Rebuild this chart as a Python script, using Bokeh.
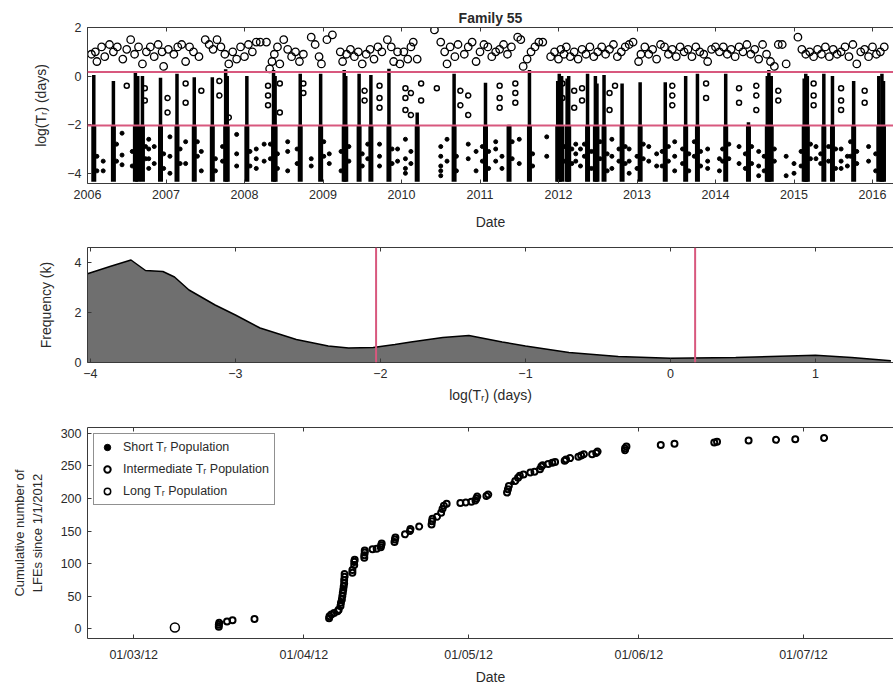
import pandas as pd
from bokeh.plotting import figure
from bokeh.layouts import column
from bokeh.models import (Range1d, FixedTicker, LinearAxis, CustomJSTickFormatter,
                          DatetimeTickFormatter, Legend, LegendItem, Span)
from bokeh.embed import file_html
from bokeh.resources import INLINE

FONT = "Liberation Sans"
TXT = "#2a2a2a"
PINK = "#d8587e"

# ---------------- Panel 1 data (decimal years, log10 Tr in days) ----------------
year_ticks = [2006, 2007, 2008, 2009, 2010, 2011, 2012, 2013, 2014, 2015, 2016]
log_ticks = [-4, -2, 0, 2]
short_limit = -2.03
long_limit = 0.17

# dense LFE bursts: date and highest log(Tr) reached by the column
burst_year = [2006.08, 2006.33, 2006.61, 2006.64, 2006.70, 2006.93, 2007.14, 2007.36, 2007.59,
              2007.76, 2007.78, 2008.03, 2008.37, 2008.39, 2008.71, 2008.97, 2009.27, 2009.29,
              2009.46, 2009.61, 2009.84, 2010.20, 2010.67, 2011.07, 2011.37, 2011.63, 2011.99,
              2012.01, 2012.04, 2012.11, 2012.13, 2012.37, 2012.47, 2012.49, 2012.58, 2012.81,
              2013.04, 2013.36, 2013.62, 2013.77, 2014.13, 2014.42, 2014.66, 2014.68, 2014.71,
              2015.13, 2015.15, 2015.17, 2015.38, 2015.49, 2015.76, 2016.08, 2016.12, 2016.14]
burst_top = [0.05, -0.2, 0.14, 0.0, 0.0, -0.07, 0.1, -0.05, -0.05,
             0.28, 0.0, 0.0, 0.25, 0.0, 0.1, 0.1, 0.25, 0.0,
             0.1, 0.05, 0.3, -1.5, 0.1, -0.27, -2.0, 0.25, -0.2,
             0.1, 0.0, -0.1, 0.0, 0.1, 0.0, -0.3, 0.05, -0.3,
             -0.25, -0.25, 0.0, 0.1, 0.1, -1.9, 0.0, 0.25, 0.0,
             -0.1, 0.1, 0.0, 0.1, 0.0, -0.2, 0.0, 0.1, -0.2]
burst_bottom = -4.35

short_year = [2006.44, 2006.44, 2006.44, 2006.20, 2006.20, 2006.78, 2006.78, 2006.78, 2006.78,
              2006.85, 2006.85, 2007.05, 2007.05, 2007.05, 2007.25, 2007.25, 2007.45, 2007.45,
              2007.90, 2007.90, 2007.90, 2008.15, 2008.15, 2008.15, 2008.25, 2008.25,
              2008.55, 2008.55, 2008.55, 2008.85, 2008.85, 2009.08, 2009.08, 2009.72, 2009.72,
              2009.72, 2009.95, 2009.95, 2010.05, 2010.05, 2010.05, 2010.05, 2010.12, 2010.12,
              2010.50, 2010.50, 2010.50, 2010.50, 2010.50, 2010.58, 2010.58, 2010.85, 2010.85,
              2010.95, 2010.95, 2011.20, 2011.20, 2011.20, 2011.28, 2011.28, 2011.50, 2011.50,
              2011.85, 2011.85, 2012.22, 2012.22, 2012.22, 2012.28, 2012.28, 2012.68, 2012.68,
              2012.68, 2012.90, 2012.90, 2012.90, 2013.15, 2013.15, 2013.25, 2013.25, 2013.48,
              2013.48, 2013.48, 2013.90, 2013.90, 2013.90, 2014.05, 2014.05, 2014.30, 2014.30,
              2014.55, 2014.55, 2014.55, 2014.90, 2014.90, 2015.00, 2015.00, 2015.28, 2015.28,
              2015.60, 2015.60, 2015.60, 2015.68, 2015.68, 2015.95, 2015.95,
              2006.12, 2006.12, 2006.37, 2006.37, 2006.57, 2006.57, 2006.74, 2006.74, 2006.97,
              2006.97, 2007.18, 2007.18, 2007.40, 2007.40, 2007.63, 2007.63, 2007.72, 2007.72,
              2008.07, 2008.07, 2008.33, 2008.33, 2008.42, 2008.42, 2008.67, 2008.67, 2009.01,
              2009.01, 2009.23, 2009.23, 2009.33, 2009.33, 2009.50, 2009.50, 2009.57, 2009.57,
              2009.88, 2009.88, 2010.70, 2010.70, 2011.03, 2011.03, 2011.11, 2011.11, 2011.41,
              2011.41, 2011.67, 2011.67, 2012.07, 2012.07, 2012.17, 2012.17, 2012.33, 2012.33,
              2012.42, 2012.42, 2012.53, 2012.53, 2012.62, 2012.62, 2012.77, 2012.77, 2012.85,
              2012.85, 2013.00, 2013.00, 2013.08, 2013.08, 2013.32, 2013.32, 2013.40, 2013.40,
              2013.58, 2013.58, 2013.66, 2013.66, 2013.73, 2013.73, 2013.81, 2013.81, 2014.09,
              2014.09, 2014.17, 2014.17, 2014.38, 2014.38, 2014.46, 2014.46, 2014.62, 2014.62,
              2014.75, 2014.75, 2015.09, 2015.09, 2015.21, 2015.21, 2015.34, 2015.34, 2015.44,
              2015.44, 2015.53, 2015.53, 2015.72, 2015.72, 2015.80, 2015.80, 2016.04, 2016.04]
short_log = [-2.35, -3.25, -3.65, -3.5, -3.9, -2.6, -3.0, -3.4, -3.8,
             -2.9, -3.6, -2.5, -3.3, -4.0, -2.7, -3.6, -3.1, -3.9,
             -2.4, -3.2, -3.7, -3.0, -3.4, -3.8, -2.8, -3.5,
             -2.7, -3.1, -3.9, -3.4, -3.7, -3.2, -3.6, -2.8, -3.3,
             -3.7, -3.0, -3.5, -2.6, -3.4, -3.8, -4.0, -3.1, -3.6,
             -2.9, -3.3, -3.7, -3.9, -4.1, -2.6, -3.5, -2.8, -3.4,
             -3.1, -3.9, -2.7, -3.0, -3.5, -3.3, -3.8, -2.6, -3.6,
             -2.5, -3.3, -2.8, -3.2, -3.5, -3.0, -3.7, -2.6, -3.3,
             -3.8, -3.0, -3.5, -4.0, -2.9, -3.5, -3.2, -3.7, -2.7,
             -3.3, -3.9, -3.0, -3.5, -3.8, -3.4, -3.9, -2.9, -3.6,
             -3.1, -3.7, -4.1, -3.3, -4.1, -3.6, -4.0, -2.9, -3.4,
             -3.0, -3.5, -3.8, -3.3, -3.7, -2.9, -3.5,
             -3.3, -3.9, -2.8, -3.5, -3.1, -3.7, -2.9, -3.4, -3.2,
             -3.8, -3.0, -3.6, -2.7, -3.3, -3.4, -3.9, -2.9, -3.5,
             -3.1, -3.7, -2.8, -3.4, -3.2, -3.8, -3.0, -3.6, -2.7,
             -3.3, -3.1, -3.9, -2.9, -3.5, -3.2, -3.7, -2.8, -3.4,
             -3.0, -3.6, -3.3, -3.9, -2.9, -3.5, -3.1, -3.8, -2.7,
             -3.4, -3.2, -3.7, -2.9, -3.5, -3.0, -3.6, -2.8, -3.3,
             -3.1, -3.8, -2.7, -3.4, -3.2, -3.9, -3.0, -3.5, -2.9,
             -3.6, -3.3, -3.8, -2.8, -3.4, -3.1, -3.7, -2.9, -3.5,
             -3.0, -3.6, -3.2, -3.9, -2.7, -3.3, -3.1, -3.7, -3.0,
             -3.5, -2.8, -3.4, -3.2, -3.8, -2.9, -3.6, -3.3, -3.9,
             -3.0, -3.5, -3.1, -3.7, -2.8, -3.4, -3.2, -3.6, -2.9,
             -3.5, -3.0, -3.8, -2.7, -3.3, -3.1, -3.6, -3.2, -3.9]

mid_year = [2006.50, 2006.73, 2006.73, 2007.02, 2007.02, 2007.25, 2007.25, 2007.45,
            2007.68, 2007.68, 2007.80, 2008.30, 2008.30, 2008.30, 2008.45, 2008.45,
            2008.75, 2008.75, 2009.53, 2009.53, 2009.72, 2009.72, 2009.72, 2010.05,
            2010.05, 2010.05, 2010.12, 2010.12, 2010.25, 2010.25, 2010.45, 2010.75,
            2010.75, 2010.85, 2010.85, 2011.25, 2011.25, 2011.25, 2011.45, 2011.45,
            2011.45, 2012.05, 2012.05, 2012.20, 2012.20, 2012.30, 2012.30, 2012.65,
            2012.65, 2012.72, 2013.45, 2013.45, 2013.45, 2013.88, 2013.88, 2014.30,
            2014.30, 2014.52, 2014.52, 2014.52, 2014.80, 2014.80, 2015.25, 2015.25,
            2015.25, 2015.60, 2015.60, 2015.60, 2015.90, 2015.90]
mid_log = [-0.4, -0.5, -1.0, -0.9, -1.5, -0.3, -1.1, -0.6,
           -0.2, -0.8, -1.7, -0.4, -0.8, -1.2, -0.3, -1.5,
           -0.3, -0.7, -0.6, -1.0, -0.4, -0.9, -1.3, -0.5,
           -0.9, -1.4, -0.7, -1.6, -0.3, -1.0, -0.5, -0.6,
           -1.2, -0.8, -1.6, -0.4, -0.9, -1.3, -0.3, -0.7,
           -1.1, -0.3, -0.9, -0.6, -1.3, -0.5, -1.0, -0.7,
           -1.4, -0.4, -0.4, -0.8, -1.2, -0.3, -0.9, -0.5,
           -1.1, -0.4, -0.8, -1.4, -0.6, -1.0, -0.3, -0.8,
           -1.2, -0.5, -1.0, -1.4, -0.6, -1.1]

long_year = [2006.05, 2006.10, 2006.12, 2006.18, 2006.22, 2006.28, 2006.33, 2006.38, 2006.45, 2006.50,
             2006.55, 2006.60, 2006.65, 2006.70, 2006.75, 2006.80, 2006.85, 2006.90, 2006.95, 2006.97,
             2007.03, 2007.10, 2007.15, 2007.20, 2007.25, 2007.30, 2007.35, 2007.42, 2007.50, 2007.55,
             2007.60, 2007.65, 2007.70, 2007.75, 2007.80, 2007.85, 2007.90, 2007.95,
             2008.00, 2008.05, 2008.10, 2008.15, 2008.20, 2008.28, 2008.32, 2008.35, 2008.38, 2008.42,
             2008.45, 2008.50, 2008.55, 2008.60, 2008.65, 2008.70, 2008.75, 2008.85, 2008.90, 2008.95,
             2008.98, 2009.05, 2009.12, 2009.22, 2009.25, 2009.30, 2009.35, 2009.40, 2009.45, 2009.50,
             2009.55, 2009.60, 2009.65, 2009.70, 2009.75, 2009.82, 2009.87, 2009.90, 2009.95, 2009.98,
             2010.03, 2010.08, 2010.12, 2010.15, 2010.20, 2010.42, 2010.50, 2010.55, 2010.58, 2010.62,
             2010.68, 2010.72, 2010.80, 2010.85, 2010.90, 2010.95, 2011.00, 2011.05, 2011.10, 2011.15,
             2011.20, 2011.25, 2011.30, 2011.35, 2011.40, 2011.48, 2011.52, 2011.55, 2011.60, 2011.65,
             2011.70, 2011.75, 2011.80, 2011.90, 2011.95, 2012.00, 2012.03, 2012.07, 2012.10, 2012.15,
             2012.20, 2012.25, 2012.30, 2012.35, 2012.40, 2012.45, 2012.50, 2012.55, 2012.60, 2012.65,
             2012.70, 2012.75, 2012.80, 2012.85, 2012.90, 2012.95, 2013.02, 2013.05, 2013.10, 2013.15,
             2013.20, 2013.25, 2013.30, 2013.35, 2013.40, 2013.45, 2013.50, 2013.55, 2013.60, 2013.65,
             2013.70, 2013.75, 2013.80, 2013.85, 2013.90, 2013.95, 2014.00, 2014.05, 2014.10, 2014.15,
             2014.20, 2014.25, 2014.30, 2014.35, 2014.40, 2014.45, 2014.50, 2014.55, 2014.60, 2014.65,
             2014.70, 2014.75, 2014.80, 2014.85, 2014.90, 2015.05, 2015.10, 2015.15, 2015.20, 2015.25,
             2015.30, 2015.35, 2015.40, 2015.45, 2015.50, 2015.55, 2015.60, 2015.65, 2015.70, 2015.75,
             2015.80, 2015.85, 2015.90, 2015.95, 2016.00, 2016.05, 2016.10, 2016.15]
long_log = [0.9, 1.0, 0.6, 1.2, 0.8, 1.3, 1.0, 1.2, 0.7, 1.1,
            1.5, 0.9, 1.2, 0.5, 1.0, 1.2, 0.8, 1.3, 1.0, 0.4,
            1.1, 0.9, 1.2, 1.3, 0.6, 1.2, 1.0, 0.8, 1.5, 1.3,
            1.1, 1.5, 1.2, 0.9, 0.5, 1.0, 0.7, 1.2,
            0.8, 1.3, 1.0, 1.4, 1.4, 1.4, 0.3, 0.6, 0.9, 1.2,
            0.5, 1.5, 1.1, 0.8, 1.0, 0.6, 0.9, 1.6, 1.3, 0.8,
            0.5, 1.5, 1.7, 1.0, 0.6, 0.9, 1.1, 0.8, 1.0, 0.5,
            0.9, 1.1, 0.7, 1.2, 1.0, 1.5, 1.2, 0.6, 1.0, 0.5,
            1.0, 0.7, 1.2, 1.4, 0.7, 1.9, 1.4, 1.0, 0.5, 1.2,
            0.8, 1.3, 0.9, 1.2, 1.4, 0.6, 1.0, 1.3, 1.2, 0.8,
            1.0, 1.1, 1.3, 0.9, 1.2, 1.6, 1.5, 0.4, 0.7, 1.0,
            1.2, 1.4, 1.4, 0.8, 1.0, 0.7, 1.1, 0.9, 1.2, 0.8,
            1.0, 0.7, 1.1, 0.9, 1.2, 0.8, 1.0, 1.2, 0.9, 1.1,
            1.3, 0.8, 1.0, 1.2, 1.3, 1.4, 0.6, 0.9, 1.2, 0.9,
            1.1, 0.7, 1.3, 1.2, 0.9, 1.1, 0.8, 1.2, 1.0, 1.1,
            0.8, 1.2, 1.0, 0.9, 0.6, 1.1, 1.2, 1.0, 1.2, 0.9,
            1.1, 0.8, 1.2, 1.0, 1.3, 0.9, 1.1, 0.7, 1.3, 0.9,
            0.6, 0.4, 1.3, 1.3, 0.5, 1.6, 1.1, 0.9, 1.0, 0.8,
            1.1, 0.9, 1.2, 0.8, 1.1, 0.9, 1.0, 1.2, 0.8, 1.3,
            0.5, 1.0, 1.1, 0.8, 1.2, 0.9, 1.0, 1.2]

# ---------------- Panel 2 data (distribution of log Tr) ----------------
hist_log = [-4.02, -3.86, -3.72, -3.62, -3.50, -3.42, -3.32, -3.14, -3.00, -2.83,
            -2.58, -2.36, -2.22, -2.05, -1.90, -1.79, -1.57, -1.39, -1.16, -1.00,
            -0.70, -0.36, 0.00, 0.45, 1.00, 1.25, 1.52]
hist_freq = [3.55, 3.85, 4.10, 3.68, 3.64, 3.42, 2.90, 2.30, 1.90, 1.38,
             0.92, 0.66, 0.58, 0.60, 0.72, 0.82, 1.00, 1.08, 0.82, 0.66,
             0.40, 0.24, 0.17, 0.20, 0.29, 0.20, 0.07]
freq_ticks = [0, 2, 4]
hist_ticks = [-4, -3, -2, -1, 0, 1]

# ---------------- Panel 3 data (cumulative LFEs since 1/1/2012) ----------------
long_dates = ["2012-03-08 12:00"]
long_counts = [2]
short_dates = ["2012-04-07 20:00", "2012-04-08 06:00", "2012-04-10 04:00", "2012-05-09 00:00"]
short_counts = [42, 62, 100, 224]
mid_dates = ["2012-03-16 12:00", "2012-03-16 12:00", "2012-03-16 14:00", "2012-03-18 00:00",
             "2012-03-19 00:00", "2012-03-23 00:00", "2012-04-05 14:00", "2012-04-05 16:00",
             "2012-04-06 00:00", "2012-04-06 12:00", "2012-04-07 04:00", "2012-04-07 08:00",
             "2012-04-07 16:00", "2012-04-07 18:00", "2012-04-07 22:00", "2012-04-08 00:00",
             "2012-04-08 02:00", "2012-04-08 04:00", "2012-04-08 06:00", "2012-04-08 08:00",
             "2012-04-08 08:00", "2012-04-08 10:00", "2012-04-08 10:00", "2012-04-09 20:00",
             "2012-04-09 20:00", "2012-04-10 04:00", "2012-04-10 04:00", "2012-04-10 06:00",
             "2012-04-12 00:00", "2012-04-12 00:00", "2012-04-12 02:00", "2012-04-12 02:00",
             "2012-04-13 12:00", "2012-04-14 06:00", "2012-04-15 00:00", "2012-04-15 02:00",
             "2012-04-15 04:00", "2012-04-17 12:00", "2012-04-17 14:00", "2012-04-17 16:00",
             "2012-04-19 10:00", "2012-04-20 08:00", "2012-04-20 10:00", "2012-04-22 00:00",
             "2012-04-24 06:00", "2012-04-24 08:00", "2012-04-24 10:00", "2012-04-25 06:00",
             "2012-04-26 00:00", "2012-04-26 06:00", "2012-04-26 12:00", "2012-04-27 00:00",
             "2012-04-29 12:00", "2012-04-30 12:00", "2012-05-01 12:00", "2012-05-02 06:00",
             "2012-05-02 10:00", "2012-05-02 14:00", "2012-05-04 06:00", "2012-05-04 14:00",
             "2012-05-08 00:00", "2012-05-08 04:00", "2012-05-08 08:00", "2012-05-09 12:00",
             "2012-05-10 00:00", "2012-05-10 08:00", "2012-05-11 00:00", "2012-05-12 06:00",
             "2012-05-13 00:00", "2012-05-14 00:00", "2012-05-14 06:00", "2012-05-14 12:00",
             "2012-05-15 12:00", "2012-05-16 06:00", "2012-05-16 18:00", "2012-05-18 12:00",
             "2012-05-18 18:00", "2012-05-19 12:00", "2012-05-21 00:00", "2012-05-21 12:00",
             "2012-05-22 00:00", "2012-05-23 12:00", "2012-05-24 06:00", "2012-05-24 12:00",
             "2012-05-29 12:00", "2012-05-29 12:00", "2012-05-29 18:00", "2012-06-05 00:00",
             "2012-06-07 12:00", "2012-06-14 18:00", "2012-06-15 06:00", "2012-06-21 00:00",
             "2012-06-26 00:00", "2012-06-29 12:00", "2012-07-04 18:00"]
mid_counts = [3, 6, 9, 11, 13, 15, 16, 19,
              22, 24, 27, 29, 35, 40, 45, 50,
              55, 60, 65, 70, 75, 80, 84, 86,
              90, 98, 103, 106, 109, 113, 117, 120,
              122, 123, 125, 128, 131, 133, 137, 140,
              145, 150, 153, 157, 160, 165, 169, 172,
              178, 184, 189, 192, 193, 194, 195, 197,
              200, 203, 204, 206, 209, 214, 219, 227,
              232, 235, 237, 240, 241, 245, 249, 251,
              253, 255, 256, 258, 260, 262, 264, 266,
              268, 268, 270, 272, 274, 277, 280, 282,
              284, 286, 287, 289, 290, 291, 293]
month_ticks = ["2012-03-01", "2012-04-01", "2012-05-01", "2012-06-01", "2012-07-01"]
count_ticks = [0, 50, 100, 150, 200, 250, 300]
legend_labels = ["Short Tᵣ Population", "Intermediate Tᵣ Population", "Long Tᵣ Population"]

W = 893
LEFT = 87
PX_RIGHT = W  # right edge of frame in page px
TICK_FS = "12.5px"
LABEL_FS = "14px"


def style(p, xticks, yticks):
    p.outline_line_color = None
    p.xgrid.visible = False
    p.ygrid.visible = False
    p.background_fill_color = "white"
    p.border_fill_color = "white"
    bx, ly = p.below[0], p.left[0]
    for ax in (bx, ly):
        ax.major_tick_in = 4
        ax.major_tick_out = 0
        ax.minor_tick_line_color = None
        ax.axis_line_color = "#3a3a3a"
        ax.major_tick_line_color = "#3a3a3a"
        ax.major_label_text_font = FONT
        ax.major_label_text_font_size = TICK_FS
        ax.major_label_text_color = TXT
        ax.axis_label_text_font = FONT
        ax.axis_label_text_font_size = LABEL_FS
        ax.axis_label_text_font_style = "normal"
        ax.axis_label_text_color = TXT
        ax.major_label_standoff = 6
    bx.ticker = FixedTicker(ticks=xticks)
    ly.ticker = FixedTicker(ticks=yticks)
    top = LinearAxis(ticker=FixedTicker(ticks=xticks),
                     formatter=CustomJSTickFormatter(code="return ''"),
                     major_label_standoff=0,
                     major_tick_in=4, major_tick_out=0, minor_tick_line_color=None,
                     axis_line_color="#3a3a3a", major_tick_line_color="#3a3a3a")
    p.add_layout(top, "above")
    return bx, ly


# ---------------- Panel 1 ----------------
p1 = figure(width=W, height=237, output_backend="svg", toolbar_location=None,
            x_range=Range1d(2006.0, 2006.0 + (PX_RIGHT - LEFT) / 78.5),
            y_range=Range1d(-4.42, 2.0),
            min_border_left=LEFT, min_border_right=0, min_border_top=27, min_border_bottom=54,
            title="Family 55")
p1.title.align = "center"
p1.title.text_font = FONT
p1.title.text_font_size = "14px"
p1.title.text_font_style = "bold"
p1.title.text_color = TXT
p1.title.offset = 0
p1.title.standoff = 4
bx1, ly1 = style(p1, year_ticks, log_ticks)
bx1.axis_label = "Date"
bx1.axis_label_standoff = 12
ly1.axis_label = "log(Tᵣ) (days)"
ly1.axis_label_standoff = 15

p1.segment(x0=burst_year, y0=[burst_bottom] * len(burst_year), x1=burst_year,
           y1=[min(t, short_limit) for t in burst_top], line_color="black", line_width=5)
p1.segment(x0=burst_year, y0=[short_limit] * len(burst_year), x1=burst_year,
           y1=burst_top, line_color="black", line_width=3.5)
p1.scatter(short_year, short_log, marker="circle", size=4, fill_color="black", line_color="black")
p1.scatter(mid_year, mid_log, marker="circle", size=5, fill_color=None, line_color="black",
           line_width=1.5)
p1.scatter(long_year, long_log, marker="circle", size=7.5, fill_color=None, line_color="black",
           line_width=1.3)
for lv in (short_limit, long_limit):
    p1.add_layout(Span(location=lv, dimension="width", line_color=PINK, line_width=2))

# ---------------- Panel 2 ----------------
p2 = figure(width=W, height=180, output_backend="svg", toolbar_location=None,
            x_range=Range1d(-4.02, -4.0 + (PX_RIGHT - 90) / 145.0), y_range=Range1d(0, 4.6),
            min_border_left=LEFT, min_border_right=0, min_border_top=10, min_border_bottom=55)
bx2, ly2 = style(p2, hist_ticks, freq_ticks)
bx2.axis_label = "log(Tᵣ) (days)"
bx2.axis_label_standoff = 6
ly2.axis_label = "Frequency (k)"
ly2.axis_label_standoff = 18
p2.varea(x=hist_log, y1=[0] * len(hist_log), y2=hist_freq, fill_color="#6f6f6f")
p2.line(hist_log, hist_freq, line_color="black", line_width=1.5)
for lv in (short_limit, long_limit):
    p2.add_layout(Span(location=lv, dimension="height", line_color=PINK, line_width=2))

# ---------------- Panel 3 ----------------
tick_ms = [pd.Timestamp(t).value // 10**6 for t in month_ticks]
p3 = figure(width=W, height=270, output_backend="svg", toolbar_location=None,
            x_axis_type="datetime",
            x_range=Range1d(pd.Timestamp("2012-02-21 14:00"),
                            pd.Timestamp("2012-07-01") + pd.Timedelta(days=(PX_RIGHT - 803) / 5.49)),
            y_range=Range1d(-15, 309),
            min_border_left=LEFT, min_border_right=0, min_border_top=10, min_border_bottom=47)
bx3, ly3 = style(p3, tick_ms, count_ticks)
bx3.formatter = DatetimeTickFormatter(days="%d/%m/%y", months="%d/%m/%y", years="%d/%m/%y")
bx3.major_label_standoff = 9
bx3.axis_label = "Date"
bx3.axis_label_standoff = 4
ly3.axis_label = "Cumulative number of\nLFEs since 1/1/2012"
ly3.axis_label_text_font_size = "13px"
ly3.axis_label_standoff = 13

r_s = p3.scatter(pd.to_datetime(short_dates), short_counts, marker="circle", size=4,
                 fill_color="black", line_color="black")
r_m = p3.scatter(pd.to_datetime(mid_dates), mid_counts, marker="circle", size=6,
                 fill_color=None, line_color="black", line_width=2)
r_l = p3.scatter(pd.to_datetime(long_dates), long_counts, marker="circle", size=9,
                 fill_color=None, line_color="black", line_width=1.5)
leg = Legend(items=[LegendItem(label=legend_labels[0], renderers=[r_s]),
                    LegendItem(label=legend_labels[1], renderers=[r_m]),
                    LegendItem(label=legend_labels[2], renderers=[r_l])],
             location="top_left", label_text_font=FONT, label_text_font_size="12.5px",
             label_text_color=TXT, border_line_color="#222", border_line_width=1.2,
             glyph_width=16, glyph_height=16, label_height=16, spacing=6, padding=5,
             margin=6, label_standoff=8, background_fill_alpha=1)
p3.add_layout(leg)

layout = column(p1, p2, p3, spacing=0)
open("out.html", "w").write(file_html(layout, INLINE))
